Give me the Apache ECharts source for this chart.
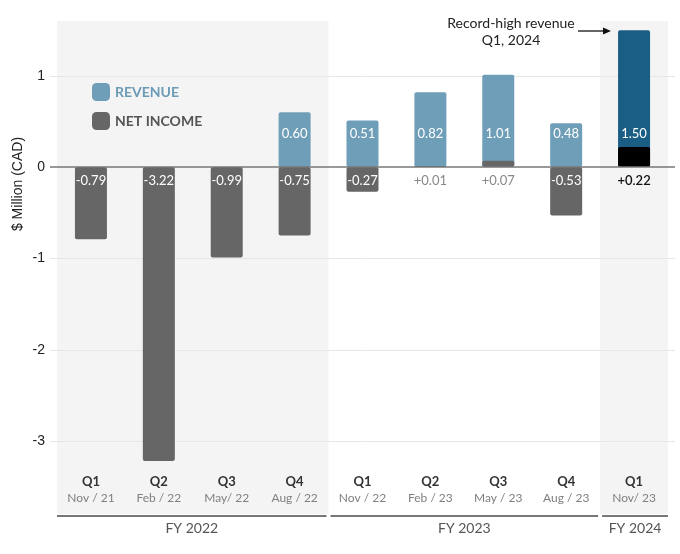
<!DOCTYPE html>
<html>
<head>
<meta charset="utf-8">
<script src="https://cdn.jsdelivr.net/npm/echarts@6/dist/echarts.min.js"></script>
<style>
html,body{margin:0;padding:0;background:#fff;}
#chart{width:680px;height:554px;}
</style>
</head>
<body>
<div id="chart"></div>
<script>
const quarters = ['Q1','Q2','Q3','Q4','Q1','Q2','Q3','Q4','Q1'];
const periods = ['Nov / 21','Feb / 22','May/ 22','Aug / 22','Nov / 22','Feb / 23','May / 23','Aug / 23','Nov/ 23'];
const revenue = [null, null, null, 0.60, 0.51, 0.82, 1.01, 0.48, 1.50];
const netIncome = [-0.79, -3.22, -0.99, -0.75, -0.27, 0.01, 0.07, -0.53, 0.22];
const fiscalYears = ['FY 2022', 'FY 2023', 'FY 2024'];
const fyStart = [0, 4, 8];
const fyEnd = [3, 7, 8];
const yTicks = [-3, -2, -1, 0, 1];

const FONT = 'Lato';
const recordIdx = revenue.indexOf(Math.max(...revenue.filter(v => v != null)));
const categories = quarters.map((q, i) => q + ' ' + periods[i]);

const chart = echarts.init(document.getElementById('chart'), null, {renderer: 'canvas'});

function bandEdges(api, s, e) {
  const bw = api.size([1, 0])[0];
  return [api.coord([s, 0])[0] - bw / 2, api.coord([e, 0])[0] + bw / 2];
}

const option = {
  animation: false,
  grid: {left: 57, right: 12, top: 21, bottom: 40, containLabel: false},
  legend: {
    left: 92, top: 83, orient: 'vertical', padding: 0,
    itemWidth: 18, itemHeight: 18, itemGap: 11,
    icon: 'roundRect',
    selectedMode: false,
    textStyle: {fontFamily: FONT, fontSize: 14, fontWeight: 'bold'},
    data: [
      {name: 'REVENUE', textStyle: {color: '#6c9bb6'}},
      {name: 'NET INCOME', textStyle: {color: '#555'}}
    ]
  },
  xAxis: {
    type: 'category',
    data: categories,
    axisLine: {show: false},
    axisTick: {show: false},
    splitLine: {show: false},
    axisLabel: {
      inside: true, margin: 8, interval: 0,
      formatter: (v, i) => '{q|' + quarters[i] + '}\n{d|' + periods[i] + '}',
      rich: {
        q: {fontFamily: FONT, fontSize: 13, fontWeight: 'bold', color: '#333', lineHeight: 16, align: 'center'},
        d: {fontFamily: FONT, fontSize: 12, color: '#808080', lineHeight: 16, align: 'center'}
      }
    }
  },
  yAxis: {
    type: 'value',
    min: -3.8, max: 1.6,
    axisLine: {show: false},
    axisTick: {show: false, customValues: yTicks},
    splitLine: {show: false},
    axisLabel: {
      customValues: yTicks,
      margin: 12,
      fontFamily: 'Liberation Sans', fontSize: 14, color: '#222',
      formatter: v => (Number.isInteger(v) ? String(v) : '')
    }
  },
  graphic: [
    {type: 'text', x: 18, y: 184, rotation: Math.PI / 2,
     style: {text: '$ Million (CAD)', align: 'center', verticalAlign: 'middle',
             fontFamily: 'Liberation Sans', fontSize: 14, fill: '#222'}},
    {type: 'text', x: 511, y: 15,
     style: {text: 'Record-high revenue\nQ1, 2024', align: 'center', verticalAlign: 'top',
             fontFamily: FONT, fontSize: 14, lineHeight: 17, fill: '#222'}},
    {type: 'line', shape: {x1: 578, y1: 31, x2: 604, y2: 31}, style: {stroke: '#111', lineWidth: 1.3}},
    {type: 'polygon', shape: {points: [[603, 27.5], [611, 31], [603, 34.5]]}, style: {fill: '#111'}}
  ],
  series: [
    {
      type: 'custom', name: 'bands', z: -10, silent: true, clip: false,
      data: fyStart.map((s, i) => [s, 0, fyEnd[i], i]),
      encode: {x: 0, y: 1},
      renderItem: (params, api) => {
        const i = api.value(3);
        if (i % 2 !== 0) return {type: 'group', children: []};
        const [l, r] = bandEdges(api, api.value(0), api.value(2));
        const cs = params.coordSys;
        return {type: 'rect', shape: {x: l, y: cs.y, width: r - l, height: cs.height},
                style: {fill: '#f4f4f4'}};
      }
    },
    {
      type: 'custom', name: 'gridlines', z: -5, silent: true, clip: false,
      data: yTicks.filter(v => v !== 0).map(v => [0, v]),
      encode: {x: 0, y: 1},
      renderItem: (params, api) => {
        const cs = params.coordSys;
        const y = Math.round(api.coord([0, api.value(1)])[1]) + 0.5;
        return {type: 'line', shape: {x1: cs.x - 7, y1: y, x2: cs.x + cs.width + 7, y2: y},
                style: {stroke: '#e6e6e6', lineWidth: 1}};
      }
    },
    {
      type: 'bar', name: 'REVENUE', color: '#6f9eb9', barWidth: 32,
      itemStyle: {borderRadius: 2},
      data: revenue.map((v, i) => v == null ? null :
        (i === recordIdx ? {value: v, itemStyle: {color: '#1b5e85'}} : v)),
      label: {
        show: true, position: 'insideBottom', distance: 27,
        color: '#fff', fontFamily: FONT, fontSize: 13,
        formatter: p => p.value.toFixed(2)
      }
    },
    {
      type: 'bar', name: 'NET INCOME', color: '#666666', barWidth: 32, barGap: '-100%',
      itemStyle: {borderRadius: 2},
      data: netIncome.map((v, i) => ({
        value: v,
        itemStyle: i === recordIdx ? {color: '#000'} : undefined,
        label: v < 0 ? {position: 'insideTop', color: '#fff'}
                     : {position: 'bottom', color: i === recordIdx ? '#111' : '#888',
                        fontWeight: i === recordIdx ? 600 : 'normal'}
      })),
      label: {
        show: true, distance: 7, fontFamily: FONT, fontSize: 13,
        formatter: p => (p.value < 0 ? p.value.toFixed(2) : '+' + p.value.toFixed(2))
      }
    },
    {
      type: 'custom', name: 'zeroline', z: 5, silent: true, clip: false,
      data: [[0, 0]],
      encode: {x: 0, y: 1},
      renderItem: (params, api) => {
        const cs = params.coordSys;
        const y = api.coord([0, 0])[1];
        return {type: 'line', shape: {x1: cs.x - 7, y1: y, x2: cs.x + cs.width + 7, y2: y},
                style: {stroke: '#777', lineWidth: 1.6}};
      }
    },
    {
      type: 'custom', name: 'brackets', z: 5, silent: true, clip: false,
      data: fyStart.map((s, i) => [s, 0, fyEnd[i], i]),
      encode: {x: 0, y: 1},
      renderItem: (params, api) => {
        const i = api.value(3);
        const cs = params.coordSys;
        let [l, r] = bandEdges(api, api.value(0), api.value(2));
        if (i > 0) l += 2;
        if (i < fiscalYears.length - 1) r -= 2;
        const y = cs.y + cs.height + 2;
        return {type: 'group', children: [
          {type: 'line', shape: {x1: l, y1: y, x2: r, y2: y}, style: {stroke: '#777', lineWidth: 2}},
          {type: 'text', x: (l + r) / 2, y: y + 12,
           style: {text: fiscalYears[i], align: 'center', verticalAlign: 'middle',
                   fontFamily: FONT, fontSize: 14, fill: '#555'}}
        ]};
      }
    }
  ]
};
chart.setOption(option);
</script>
</body>
</html>
